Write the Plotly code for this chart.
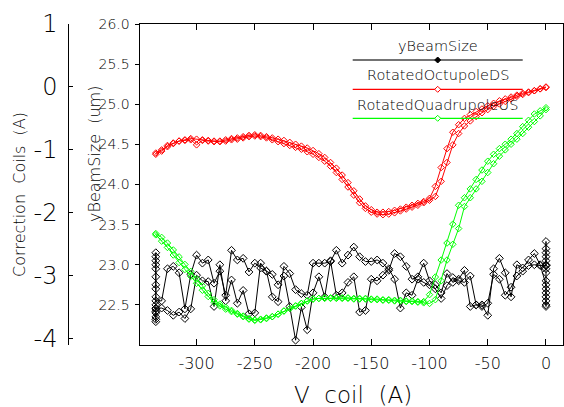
import plotly.graph_objects as go

# ---------------- data ----------------
sweep_x = list(range(0, -340, -5))          # 0, -5, ..., -335

# RotatedOctupoleDS (A) – branch going 0 -> -335
oct_down = [0.00, -0.03, -0.06, -0.08, -0.10, -0.13, -0.16, -0.19, -0.22, -0.26,
            -0.30, -0.35, -0.39, -0.44, -0.50, -0.60, -0.72, -0.98, -1.28, -1.58,
            -1.77, -1.82, -1.85, -1.88, -1.91, -1.94, -1.96, -1.98, -1.99, -1.99,
            -1.95, -1.89, -1.78, -1.65, -1.52, -1.40, -1.29, -1.20, -1.12, -1.06,
            -1.01, -0.97, -0.94, -0.91, -0.88, -0.85, -0.83, -0.81, -0.79, -0.77,
            -0.76, -0.77, -0.79, -0.81, -0.82, -0.84, -0.86, -0.86, -0.85, -0.84,
            -0.83, -0.82, -0.84, -0.86, -0.90, -0.95, -1.00, -1.05]
# RotatedOctupoleDS (A) – branch going -335 -> 0 (listed from 0 to -335)
oct_up = [-0.01, -0.03, -0.06, -0.09, -0.12, -0.15, -0.19, -0.23, -0.27, -0.31,
          -0.36, -0.41, -0.47, -0.54, -0.62, -0.74, -0.92, -1.20, -1.50, -1.74,
          -1.80, -1.84, -1.88, -1.91, -1.94, -1.97, -2.00, -2.02, -2.03, -2.02,
          -1.99, -1.93, -1.84, -1.72, -1.59, -1.47, -1.36, -1.26, -1.18, -1.12,
          -1.07, -1.03, -0.99, -0.96, -0.93, -0.90, -0.87, -0.84, -0.81, -0.79,
          -0.78, -0.79, -0.81, -0.83, -0.84, -0.86, -0.87, -0.87, -0.86, -0.85,
          -0.92, -0.84, -0.85, -0.86, -0.89, -0.93, -1.02, -1.07]

# RotatedQuadrupoleUS (A)
quad_down = [-0.33, -0.38, -0.43, -0.53, -0.63, -0.74, -0.83, -0.91, -0.98, -1.07,
             -1.18, -1.32, -1.47, -1.62, -1.76, -1.88, -2.18, -2.48, -2.75, -3.02,
             -3.30, -3.41, -3.41, -3.40, -3.40, -3.39, -3.39, -3.38, -3.38, -3.37,
             -3.37, -3.36, -3.36, -3.36, -3.35, -3.35, -3.35, -3.35, -3.35, -3.36,
             -3.37, -3.40, -3.44, -3.48, -3.52, -3.56, -3.61, -3.65, -3.67, -3.69,
             -3.70, -3.68, -3.64, -3.60, -3.55, -3.50, -3.45, -3.38, -3.28, -3.16,
             -3.05, -2.93, -2.82, -2.70, -2.59, -2.48, -2.39, -2.33]
quad_up = [-0.36, -0.46, -0.55, -0.64, -0.74, -0.83, -0.91, -1.00, -1.10, -1.22,
           -1.36, -1.50, -1.62, -1.76, -1.90, -2.25, -2.50, -2.75, -3.08, -3.38,
           -3.44, -3.43, -3.42, -3.41, -3.41, -3.40, -3.40, -3.39, -3.39, -3.38,
           -3.38, -3.37, -3.37, -3.37, -3.36, -3.36, -3.36, -3.36, -3.36, -3.36,
           -3.37, -3.40, -3.44, -3.48, -3.52, -3.56, -3.61, -3.65, -3.68, -3.70,
           -3.71, -3.69, -3.65, -3.61, -3.57, -3.53, -3.48, -3.42, -3.33, -3.23,
           -3.12, -3.01, -2.90, -2.79, -2.67, -2.55, -2.45, -2.35]

# yBeamSize (um) – two noisy passes, x = -5 ... -330 (listed from -5 to -330)
beam_x = list(range(-5, -335, -5))
beam_pass1 = [23.00, 23.14, 23.06, 22.96, 23.00, 22.60, 22.90, 23.08, 22.95, 22.37,
              22.50, 22.50, 22.48, 22.93, 22.82, 22.78, 22.89, 22.65, 22.75, 22.80,
              23.02, 22.85, 22.82, 22.98, 23.10, 23.14, 22.93, 23.02, 23.06, 23.04,
              23.04, 23.10, 23.22, 23.12, 23.02, 23.18, 23.04, 23.02, 23.02, 23.02,
              22.62, 22.64, 22.69, 22.89, 22.98, 22.54, 22.60, 22.92, 22.96, 23.02,
              22.91, 23.08, 23.06, 23.18, 22.62, 22.92, 22.77, 23.06, 23.02, 23.12,
              22.88, 22.45, 22.90, 22.98, 22.95, 22.55]
beam_pass2 = [22.99, 23.00, 22.99, 22.92, 22.86, 22.72, 22.62, 22.82, 22.88, 22.52,
              22.48, 22.50, 22.86, 22.78, 22.80, 22.84, 22.74, 22.58, 22.70, 22.75,
              22.78, 22.82, 22.62, 22.65, 22.46, 22.82, 22.95, 22.87, 22.80, 22.82,
              22.43, 22.41, 22.85, 22.78, 22.65, 22.62, 23.05, 22.60, 22.85, 22.65,
              22.19, 22.47, 22.06, 22.48, 22.86, 22.75, 22.88, 22.92, 23.02, 22.40,
              22.39, 22.68, 22.52, 22.81, 22.55, 23.00, 22.48, 22.79, 22.80, 22.87,
              22.45, 22.33, 22.41, 22.37, 22.43, 22.46]
beam_start_cluster = [22.99, 23.29, 22.50, 23.10, 22.60, 22.90, 22.48, 23.20, 22.70,
                      23.00, 22.55, 22.80, 23.05, 22.65, 22.95, 23.15, 22.75]
beam_end_cluster = [22.55, 22.95, 23.15, 22.29, 23.05, 22.35, 22.75, 22.45, 23.10,
                    22.60, 22.40, 22.85, 22.50, 22.32, 22.70, 23.00, 22.42, 22.46]

x_tickvals = [-300, -250, -200, -150, -100, -50, 0]
x_ticktext = ["-300", "-250", "-200", "-150", "-100", "-50", "0"]
beam_tickvals = [22.5, 23.0, 23.5, 24.0, 24.5, 25.0, 25.5, 26.0]
beam_ticktext = ["22.5", "23.0", "23.5", "24.0", "24.5", "25.0", "25.5", "26.0"]
coil_tickvals = [-4, -3, -2, -1, 0, 1]
coil_ticktext = ["-4", "-3", "-2", "-1", "0", "1"]

series_names = ["yBeamSize", "RotatedOctupoleDS", "RotatedQuadrupoleUS"]
series_colors = ["#000000", "#ff0000", "#00ff00"]

# ---------------- figure ----------------
FONT = "DejaVu Sans"
W, H = 564, 407
L, R, T, B = 60, 1, 24, 62
pw, ph = W - L - R, H - T - B
xdom0 = (139.5 - L) / pw

fig = go.Figure()

loop_x = sweep_x + sweep_x[::-1]
fig.add_trace(go.Scatter(
    x=loop_x, y=oct_down + oct_up[::-1], yaxis="y3", mode="lines+markers",
    line=dict(color=series_colors[1], width=1),
    marker=dict(symbol="diamond-open", size=5, color=series_colors[1], line=dict(width=1)),
    name=series_names[1], showlegend=False))
fig.add_trace(go.Scatter(
    x=loop_x, y=quad_down + quad_up[::-1], yaxis="y3", mode="lines+markers",
    line=dict(color=series_colors[2], width=1),
    marker=dict(symbol="diamond-open", size=5, color=series_colors[2], line=dict(width=1)),
    name=series_names[2], showlegend=False))

bx = ([0] * len(beam_start_cluster) + beam_x + [-335] * len(beam_end_cluster)
      + beam_x[::-1] + [0])
by = (beam_start_cluster + beam_pass1 + beam_end_cluster + beam_pass2[::-1]
      + [beam_start_cluster[0]])
fig.add_trace(go.Scatter(
    x=bx, y=by, yaxis="y", mode="lines+markers",
    line=dict(color=series_colors[0], width=1),
    marker=dict(symbol="diamond-open", size=6, color=series_colors[0], line=dict(width=1)),
    name=series_names[0], showlegend=False))

fig.update_layout(
    template="none",
    width=W, height=H,
    margin=dict(l=L, r=R, t=T, b=B, autoexpand=False),
    paper_bgcolor="white", plot_bgcolor="white",
    font=dict(family=FONT, color="black", weight=200),
    showlegend=False,
    xaxis=dict(domain=[xdom0, 1], range=[-349, 14.6], tickvals=x_tickvals, ticktext=x_ticktext,
               ticks="inside", ticklen=6, tickcolor="black", mirror="ticks", automargin=False,
               showline=True, linecolor="black", linewidth=1, showgrid=False, zeroline=False,
               tickfont=dict(size=16, family=FONT, weight=200, color="black"), ticklabelstandoff=4),
    yaxis=dict(domain=[0, 1], range=[22, 26], tickvals=beam_tickvals, ticktext=beam_ticktext,
               ticks="outside", ticklen=4, tickcolor="black", anchor="x", automargin=False,
               showline=True, linecolor="black", linewidth=1, mirror=True,
               showgrid=False, zeroline=False,
               tickfont=dict(size=14, family=FONT, weight=200, color="black"), ticklabelstandoff=2),
    yaxis2=dict(overlaying="y", range=[22, 26], tickvals=beam_tickvals, anchor="x",
                ticks="inside", ticklen=5, tickcolor="black", mirror="ticks", automargin=False,
                showticklabels=False, showline=False, showgrid=False, zeroline=False),
    yaxis3=dict(overlaying="y", range=[-4.1, 1], tickvals=coil_tickvals, ticktext=coil_ticktext,
                anchor="free", position=(68.3 - L) / pw, side="left", automargin=False,
                ticks="inside", ticklen=4, tickcolor="black",
                showline=True, linecolor="black", linewidth=1,
                showgrid=False, zeroline=False,
                tickfont=dict(size=24, family=FONT, weight=200, color="black"), ticklabelstandoff=6),
)

def px2x(px):
    return (px - L) / pw

def py2y(py):
    return (H - B - py) / ph

annotations = [
    dict(text="V  coil  (A)", x=px2x(352.5), y=py2y(395), font=dict(size=23)),
    dict(text="Correction  Coils  (A)", x=px2x(20), y=py2y(195), textangle=-90, font=dict(size=16)),
    dict(text="yBeamSize  (um)", x=px2x(94), y=py2y(154), textangle=-90, font=dict(size=16)),
]
shapes = []
leg_text_py = [46, 75, 105]
leg_line_py = [60, 89.3, 118.3]
cx = px2x(437.7)
dx, dy = 3 / pw, 3 / ph
for name, color, tpy, lpy in zip(series_names, series_colors, leg_text_py, leg_line_py):
    annotations.append(dict(text=name, x=cx, y=py2y(tpy), font=dict(size=14.5)))
    ly = py2y(lpy)
    shapes.append(dict(type="line", xref="paper", yref="paper", x0=px2x(352.7), x1=px2x(522.7),
                       y0=ly, y1=ly, line=dict(color="#444444" if color == "#000000" else color, width=1.3)))
    shapes.append(dict(type="path", xref="paper", yref="paper",
                       path=f"M {cx-dx},{ly} L {cx},{ly+dy} L {cx+dx},{ly} L {cx},{ly-dy} Z",
                       fillcolor=color if color == "#000000" else "white",
                       line=dict(color=color, width=1)))

for a in annotations:
    a.update(xref="paper", yref="paper", showarrow=False, xanchor="center", yanchor="middle")
    a["font"].update(family=FONT, color="black", weight=200)

fig.update_layout(annotations=annotations, shapes=shapes)
fig.write_html("out.html", config={"displayModeBar": False},
               post_script="document.body.style.margin='0';document.body.style.padding='0';")
